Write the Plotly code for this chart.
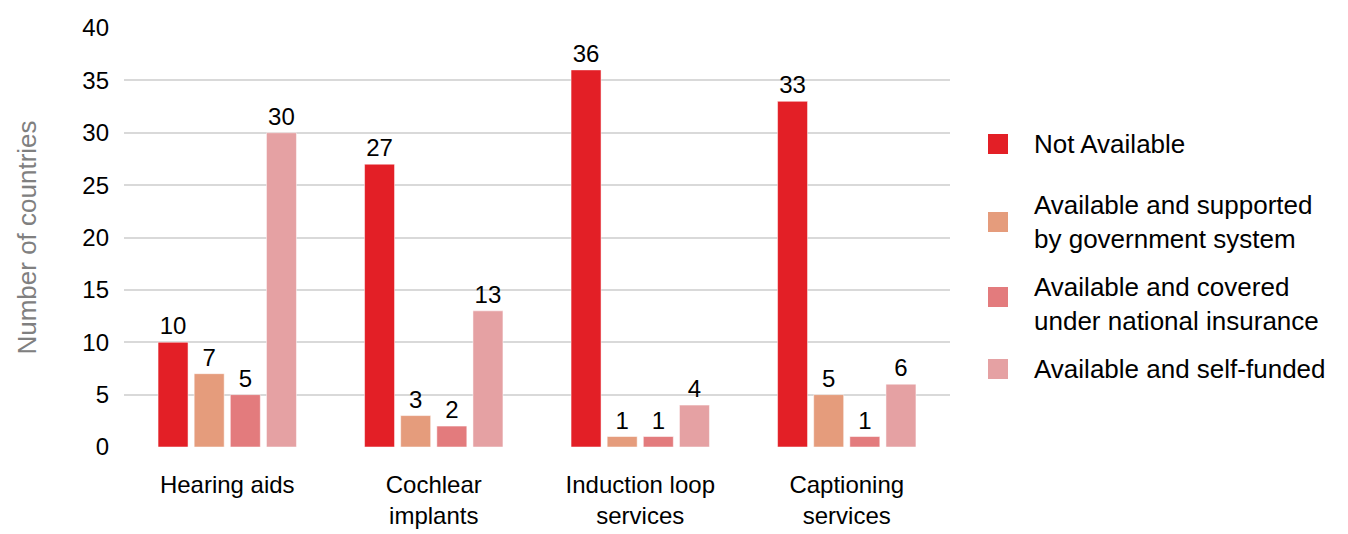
import plotly.graph_objects as go

categories = ["Hearing aids", "Cochlear<br>implants", "Induction loop<br>services", "Captioning<br>services"]
series_names = [
    "Not Available",
    "Available and supported<br>by government system",
    "Available and covered<br>under national insurance",
    "Available and self-funded",
]
not_available = [10, 27, 36, 33]
gov_supported = [7, 3, 1, 5]
national_insurance = [5, 2, 1, 1]
self_funded = [30, 13, 4, 6]
colors = ["#E31F26", "#E59C7C", "#E37B7D", "#E5A1A3"]

values = [not_available, gov_supported, national_insurance, self_funded]

W, H = 1348, 534
ML, MR, MT, MB = 124, 398, 28, 87
PW, PH = W - ML - MR, H - MT - MB

fig = go.Figure()
for name, vals, col in zip(series_names, values, colors):
    fig.add_trace(go.Bar(
        x=categories, y=vals, name=name,
        marker=dict(color=col, line=dict(color="rgba(255,255,255,0.5)", width=1)),
        text=[str(v) for v in vals], textposition="outside",
        textfont=dict(size=24, color="#000000"),
        cliponaxis=False, showlegend=False,
    ))

# Legend drawn as square swatches plus text on the right of the plot
legend_swatch_y = [144, 222, 297, 369]
legend_text_y = [144, 222, 304, 369]
swatch_x0, swatch_x1, text_x = 988, 1008, 1032
def px_x(px):
    return (px - ML) / PW
def px_y(py):
    return (H - MB - py) / PH

for name, col, sy, ty in zip(series_names, colors, legend_swatch_y, legend_text_y):
    fig.add_shape(
        type="rect", xref="paper", yref="paper",
        x0=px_x(swatch_x0), x1=px_x(swatch_x1),
        y0=px_y(sy + 10), y1=px_y(sy - 10),
        fillcolor=col, line=dict(width=0),
    )
    fig.add_annotation(
        xref="paper", yref="paper", x=px_x(text_x), y=px_y(ty),
        xanchor="left", yanchor="middle", text=name, showarrow=False,
        align="left", font=dict(size=26, color="#000000"),
    )

fig.update_layout(
    width=W, height=H,
    margin=dict(l=ML, r=MR, t=MT, b=MB),
    paper_bgcolor="white", plot_bgcolor="white",
    font=dict(family="Liberation Sans, Arial, sans-serif", size=24, color="#000000"),
    barmode="group", bargap=0.30, bargroupgap=0.17,
    showlegend=False,
)
fig.update_yaxes(
    range=[0, 40], dtick=5, showgrid=True, gridcolor="#D9D9D9", gridwidth=2,
    zeroline=False, showline=False, tickfont=dict(size=24, color="#000000"),
    ticklabelstandoff=14, automargin=False,
    title=dict(text="Number of countries", font=dict(size=26, color="#808080"), standoff=38),
)
fig.update_xaxes(
    showline=False, tickfont=dict(size=24, color="#000000"), ticklabelstandoff=21,
    automargin=False,
)

fig.write_html("out.html")
